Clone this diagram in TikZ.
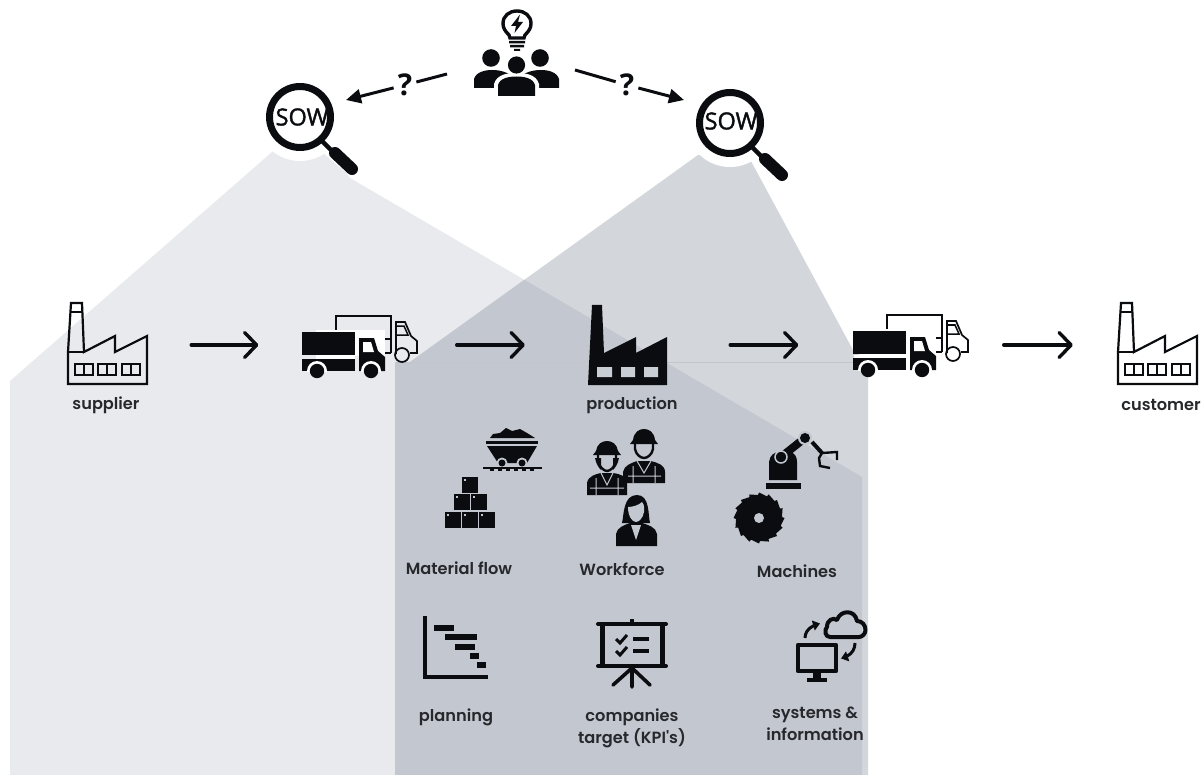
\documentclass[tikz,border=0pt]{standalone}
\usepackage{fontspec}
\setmainfont{Open Sans}
\newfontfamily\lab{Poppins SemiBold}
\newfontfamily\sowf{Open Sans}[FakeBold=1.6]
\usetikzlibrary{arrows.meta,bending}
\definecolor{lightgrey}{HTML}{E9EAEE}
\definecolor{midgrey}{HTML}{D3D6DB}
\definecolor{darkgrey}{HTML}{C3C7CF}
\definecolor{ink}{HTML}{0A0C10}
\definecolor{labelink}{HTML}{26282C}
\tikzset{
  lbl/.style={font=\lab\fontsize{16.2}{22}\selectfont,text=labelink,align=center,inner sep=0pt},
  iconbox/.style={inner sep=0pt,minimum width=#1,minimum height=40pt},
  flow/.style={line width=3.4pt,line cap=round,ink,-{Straight Barb[length=12pt,width=25pt,round,line width=3.4pt]}},
  askline/.style={line width=3pt,ink},
  askarrow/.style={line width=3pt,ink,-{Triangle[length=15pt,width=14pt]}},
  ask/.style={font=\bfseries\fontsize{30}{30}\selectfont,text=ink,inner sep=4pt},
  sow/.style={font=\sowf\fontsize{23.5}{23.5}\selectfont,text=ink,inner sep=0pt},
  syncarrow/.style={ink,line width=3pt,-{Triangle[length=7pt,width=10pt,flex=0.6]}},
  factoryline/.pic={
    \draw[ink,line width=2.2pt,line join=miter]
      (71,303)--(82,303)--(84,352)--(115,336)--(115,352)--(147,336)--(147,384)--(68,384)--(68,352)--cycle;
    \draw[ink,line width=2pt] (70,312)--(83,312) (68,352)--(84,352);
    \foreach \a/\b in {75/93,98/116,122/140}{
      \draw[ink,line width=2pt] (\a,364) rectangle (\b,375);
      \draw[ink,line width=2pt] ({(\a+\b)/2},364)--({(\a+\b)/2},375);
    }
  },
  truckicon/.pic={
    \draw[ink,line width=1.7pt] (336,330)--(336,316)--(391,316)--(391,353);
    \draw[ink,line width=1.7pt] (385,339)--(391,339) (385,353)--(391,353);
    \draw[ink,line width=1.7pt] (396,354)--(396,322)--(405,322)--(411,336)--(417,341)--(417,353)--(410,353);
    \draw[ink,line width=1.5pt] (397,326)--(404,326)--(408,335)--(397,335);
    \draw[ink,line width=1.7pt] (402,355) circle[radius=7];
    \fill[ink] (302,332) rectangle (355,355);
    \fill[ink] (302,359) rectangle (355,371);
    \fill[ink] (359,338) -- (374,338) -- (378,351) -- (385,357) -- (385,371) -- (359,371) -- cycle;
    \fill[white] (363,342) -- (371,342) -- (374,352) -- (363,352) -- cycle;
    \begin{scope}
      \clip (300,355) rectangle (390,371);
      \fill[white] (317,371) circle[radius=10] (371,371) circle[radius=10];
    \end{scope}
    \fill[ink] (317,371) circle[radius=7.2] (371,371) circle[radius=7.2];
  },
  lens/.pic={
    \draw[white,line width=18pt,line cap=round] (30,30)--(55,51);
    \fill[white] (0,0) circle[radius=44];
    \draw[ink,line width=7pt] (0,0) circle[radius=30.5];
    \draw[ink,line width=4.5pt] (22,24)--(36,38);
    \draw[ink,line width=12pt,line cap=round] (35,36)--(52,52);
  },
  boxicon/.pic={
    \fill[ink] (0,0) rectangle (15.5,15.5);
    \fill[darkgrey] (2,2) rectangle (4,4);
  }
}
\begin{document}
\begin{tikzpicture}[x=1pt,y=-1pt]
\path[use as bounding box] (0,0) rectangle (1201,775);
% regions of scope
\def\areaA{(10,381)--(272,152)--(300,135)--(330,150)--(350,178)--(862,477)--(862,775)--(10,775)--cycle}
\def\areaB{(395,362)--(410,362)--(698,155)--(745,150)--(853,350)--(868,362)--(868,775)--(395,775)--cycle}
\fill[lightgrey] \areaA;
\fill[midgrey] \areaB;
\begin{scope}
  \clip \areaB;
  \fill[darkgrey] \areaA;
\end{scope}
\draw[black!8!midgrey,line width=.5pt] (395,362)--(868,362);
% lenses
\pic at (300,117) {lens};
\pic at (730,123) {lens};
\node[sow] (sowL) at (302,117) {SOW};
\node[sow] (sowR) at (731,121) {SOW};
% team
\fill[ink] (491,58) circle[radius=8.8] (540,58) circle[radius=8.8];
\fill[ink] (474,88) -- (474,79) .. controls (476,72) and (485,70) .. (492,70) .. controls (500,70) and (508,72) .. (514,78) -- (514,88) -- cycle;
\fill[ink] (559,88) -- (559,79) .. controls (557,72) and (548,70) .. (541,70) .. controls (533,70) and (525,72) .. (519,78) -- (519,88) -- cycle;
\fill[white] (516.5,65) circle[radius=11];
\fill[white] (494,97) -- (494,84) .. controls (497,74) and (508,73) .. (516.5,73) .. controls (525,73) and (536,74) .. (539,84) -- (539,97) -- cycle;
\fill[ink] (516.5,65) circle[radius=8.6];
\fill[ink] (498,96) -- (498,85) .. controls (500,78) and (509,76.5) .. (516.5,76.5) .. controls (524,76.5) and (533,78) .. (535,85) -- (535,96) -- cycle;
\draw[ink,line width=3.4pt] (509,35) .. controls (505,31) and (503,28) .. (503,23.5) .. controls (503,16) and (509,11) .. (517,11) .. controls (525,11) and (531,16) .. (531,23.5) .. controls (531,28) and (529,31) .. (525,35) -- (524,38) -- (510,38) -- cycle;
\fill[ink] (520,14.5) -- (511,26) -- (516,26) -- (514.5,33) -- (523,22) -- (518,22) -- cycle;
\fill[ink] (509,41) rectangle (525,43.5) (510,45) rectangle (524,47.5) (514,49) rectangle (520,51);
\node[inner sep=0pt,minimum width=86pt,minimum height=48pt] (team) at (517,73) {};
\coordinate (askL) at (447,74);
\coordinate (askR) at (575,70);
\node[ask] (q1) at (405,85) {?};
\node[ask] (q2) at (627,85) {?};
\coordinate (lensL) at (346,100);
\coordinate (lensR) at (684,100);
\draw[askline] (askL)--(q1);
\draw[askline] (askR)--(q2);
\draw[askarrow] (q1)--(lensL);
\draw[askarrow] (q2)--(lensR);
% chain
\pic {factoryline};
\pic at (1050,0) {factoryline};
\fill[white] (316,330) rectangle (385,356);
\fill[white] (316,355) rectangle (355,359);
\pic {truckicon};
\fill[white] (854,355) rectangle (907,359);
\pic at (551,-1) {truckicon};
\fill[ink] (592,305) -- (602,305) -- (604,353) -- (636,337) -- (636,353) -- (667,337) -- (667,385) -- (588,385) -- cycle;
\fill[midgrey!40!darkgrey] (597,367) rectangle (612,377) (621,367) rectangle (635,377) (644,367) rectangle (658,377);
\node[iconbox=79pt] (supplier) at (107.5,345) {};
\node[iconbox=115pt] (truckA) at (360,345) {};
\node[iconbox=80pt] (production) at (628,345) {};
\node[iconbox=115pt] (truckB) at (911,345) {};
\node[iconbox=79pt] (customer) at (1157.5,345) {};
\draw[flow,shorten <=44pt,shorten >=44pt] (supplier.east)--(truckA.west);
\draw[flow,shorten <=39pt,shorten >=63pt] (truckA.east)--(production.west);
\draw[flow,shorten <=62pt,shorten >=55pt] (production.east)--(truckB.west);
\draw[flow,shorten <=35pt,shorten >=45pt] (truckB.east)--(customer.west);
\node[lbl] (lsupplier) at (106,405) {supplier};
\node[lbl] (lproduction) at (632,405) {production};
\node[lbl] (lcustomer) at (1161,405) {customer};
% material flow
\fill[ink] (490,438) -- (493,434) -- (500,433) -- (506,428) -- (512,431) -- (520,429) -- (527,433) -- (535,438) -- cycle;
\fill[ink] (486,441) rectangle (538,444);
\fill[ink] (487,446) -- (537,446) -- (527,463) -- (498,463) -- cycle;
\fill[darkgrey] (502,463) circle[radius=5.5] (522,463) circle[radius=5.5];
\fill[ink] (502,463) circle[radius=3.5] (522,463) circle[radius=3.5];
\fill[ink] (483,467) rectangle (542,469);
\foreach \t in {490,498,506,514,522,530}{\fill[ink] (\t,469) rectangle (\t+4,471);}
\foreach \p/\q in {462/477,454/494,471/494,445/512,462/512,479/512}{
  \pic at (\p,\q) {boxicon};
}
% workforce
\fill[ink] (587,495) -- (587,483) .. controls (588,476) and (596,474) .. (601,473) -- (613,473) .. controls (620,474) and (627,476) .. (627,483) -- (627,495) -- cycle;
\draw[darkgrey,line width=1pt] (596,478)--(596,495) (618,478)--(618,495) (590,488)--(624,488) (601,473)--(607,485)--(613,473);
\draw[ink,fill=darkgrey,line width=2.4pt] (598,452) -- (598,461) .. controls (599,467) and (604,471) .. (607,471) .. controls (610,471) and (615,467) .. (616,461) -- (616,452) -- cycle;
\fill[ink] (596,451) .. controls (597,444) and (602,441) .. (607,441) .. controls (612,441) and (617,444) .. (618,451) -- (621,455) -- (593,455) -- cycle;
\fill[ink] (595,458) .. controls (596,464) and (599,468) .. (601,470) -- (601,458) -- cycle (619,458) .. controls (618,464) and (615,468) .. (613,470) -- (613,458) -- cycle;
\fill[ink] (623,483) -- (623,472) .. controls (624,465) and (632,463) .. (637,461) -- (651,461) .. controls (658,463) and (665,465) .. (665,472) -- (665,483) -- cycle;
\draw[darkgrey,line width=1pt] (633,466)--(633,483) (655,466)--(655,483) (628,476)--(661,476) (637,461)--(644,473)--(651,461);
\draw[ink,fill=darkgrey,line width=2.4pt] (635,442) -- (635,449) .. controls (636,455) and (641,458) .. (644,458) .. controls (647,458) and (652,455) .. (653,449) -- (653,442) -- cycle;
\fill[ink] (633,440) .. controls (634,432) and (639,429) .. (644,429) .. controls (649,429) and (654,432) .. (655,440) -- (658,444) -- (630,444) -- cycle;
\fill[ink] (616,546) -- (616,534) .. controls (617,527) and (625,525) .. (630,523) -- (642,523) .. controls (648,525) and (656,527) .. (657,534) -- (657,546) -- cycle;
\fill[darkgrey] (631,525) -- (636,540) -- (641,525) -- cycle;
\fill[ink] (622,523) .. controls (624,515) and (623,495) .. (637,495) .. controls (650,495) and (648,515) .. (650,523) -- cycle;
\fill[darkgrey] (628,507) .. controls (633,507) and (639,505) .. (642,502) .. controls (645,505) and (644,510) .. (644,512) .. controls (643,518) and (639,522) .. (636,522) .. controls (632,522) and (628,516) .. (628,507) -- cycle;
% machines
\fill[ink] (766,483) rectangle (801,489);
\fill[ink] (769,480) -- (769,462) .. controls (770,455) and (774,452) .. (780,452) -- (790,452) .. controls (795,453) and (797,457) .. (797,462) -- (797,480) -- cycle;
\draw[ink,line width=8pt] (781,457)--(805,438);
\draw[darkgrey,line width=1.5pt] (781,457) circle[radius=6];
\fill[darkgrey] (805,438) circle[radius=7];
\fill[ink] (805,438) circle[radius=5];
\draw[ink,line width=4pt] (812,442)--(822,453);
\draw[ink,line width=2.4pt] (822,453)--(837,452)--(837,460) (822,453)--(819,458)--(820,466)--(830,468);
\begin{scope}[shift={(759,518)}]
  \fill[ink] (0:25.5) \foreach \a in {0,22.5,...,337.5}{ -- ({\a+20}:23) -- ({\a+22.5}:25.5) } -- cycle;
  \fill[darkgrey] (0,0) circle[radius=5];
\end{scope}
\node[lbl] (lmaterial) at (459,568) {Material flow};
\node[lbl] (lworkforce) at (622,569) {Workforce};
\node[lbl] (lmachines) at (797,571) {Machines};
% planning
\draw[ink,line width=4.5pt,line join=miter] (425,616)--(425,677)--(488,677);
\foreach \a/\b/\y in {434/454/628,445/477/637,455/475/647,470/479/656,477/486/665}{
  \fill[ink] (\a,\y-3) rectangle (\b,\y+3);
}
% KPI board
\draw[ink,line width=4pt,line cap=round] (598,624)--(666,624) (598,666)--(666,666);
\draw[ink,line width=5pt] (602,624)--(602,666) (662,624)--(662,666);
\draw[ink,line width=4pt] (632,619)--(632,624);
\draw[ink,line width=3pt] (616,639)--(620,643)--(627,635) (616,651)--(620,655)--(627,647);
\draw[ink,line width=3.4pt] (633,639)--(649,639) (633,651)--(649,651);
\draw[ink,line width=3.6pt,line cap=round] (632,668)--(632,687) (632,668)--(613,685) (632,668)--(650,685);
% systems
\draw[ink,line width=4pt,line join=round] (830,637) .. controls (825,637) and (824,630) .. (827,627) .. controls (827,620) and (833,617) .. (837,620) .. controls (840,610) and (855,609) .. (857,621) .. controls (862,621) and (865.5,625) .. (865.5,630) .. controls (865.5,634) and (862,637) .. (859,637) -- cycle;
\draw[ink,line width=4.5pt,line join=round] (798,645) rectangle (836,671);
\fill[ink] (813,672) rectangle (821,679);
\fill[ink] (807,678) rectangle (827,682);
\draw[syncarrow] (805,638) .. controls (805,632) and (809,626) .. (820,623.5);
\draw[syncarrow] (855,643) .. controls (855,650) and (851,656) .. (841,658.5);
\node[lbl] (lplanning) at (456,717) {planning};
\node[lbl] (lkpi) at (632,728) {companies\\target (KPI's)};
\node[lbl] (lsystems) at (815,724) {systems \&\\information};
\end{tikzpicture}
\end{document}
